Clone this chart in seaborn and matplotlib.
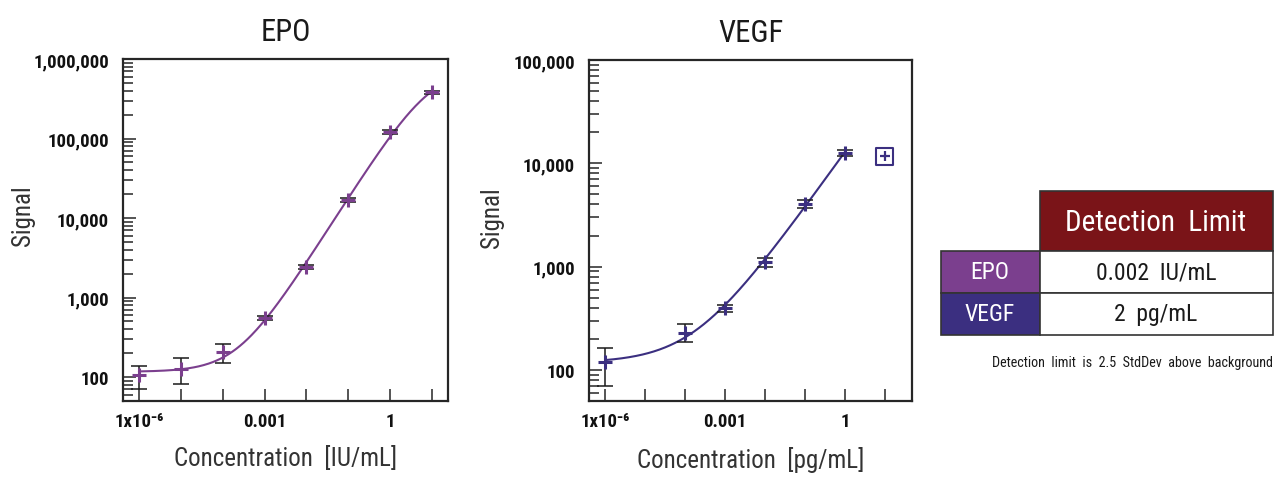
import numpy as np
import pandas as pd
import matplotlib
matplotlib.use("Agg")
import matplotlib.pyplot as plt
import seaborn as sns
from matplotlib import font_manager
from matplotlib.patches import Rectangle
from matplotlib.ticker import LogLocator, NullFormatter, NullLocator

# ---------------- data ----------------
epo_conc = [1e-6, 1e-5, 1e-4, 1e-3, 1e-2, 1e-1, 1, 10]
epo_signal = [105, 126, 205, 546, 2400, 16800, 122000, 381000]
epo_err_low = [71, 82, 150, 515, 2260, 15800, 115000, 362000]
epo_err_high = [136, 174, 257, 580, 2540, 17800, 129000, 400000]

vegf_conc = [1e-6, 1e-4, 1e-3, 1e-2, 1e-1, 1]
vegf_signal = [119, 230, 401, 1110, 4070, 12700]
vegf_err_low = [70, 185, 361, 1000, 3670, 11740]
vegf_err_high = [162, 279, 423, 1206, 4460, 13500]
vegf_excl_conc = [10]
vegf_excl_signal = [11700]

x_tick_values = [1e-6, 1e-5, 1e-4, 1e-3, 1e-2, 1e-1, 1, 10]
x_tick_labels = ["1x10\u207b\u2076", "", "", "0.001", "", "", "1", ""]
epo_y_ticks = [100, 1000, 10000, 100000, 1000000]
epo_y_labels = ["100", "1,000", "10,000", "100,000", "1,000,000"]
vegf_y_ticks = [100, 1000, 10000, 100000]
vegf_y_labels = ["100", "1,000", "10,000", "100,000"]

table_rows = ["EPO", "VEGF"]
table_values = ["0.002  IU/mL", "2  pg/mL"]
table_header = "Detection  Limit"
table_note = "Detection  limit  is  2.5  StdDev  above  background"

EPO_COLOR = "#7B3F8E"
VEGF_COLOR = "#3B2F80"
HEADER_COLOR = "#7A1418"
FRAME = "#262626"

# ---------------- style ----------------
sns.set_theme(style="white")
names = {f.name for f in font_manager.fontManager.ttflist}
narrow = [n for n in ("Liberation Sans Narrow", "DejaVu Sans Condensed", "Roboto Condensed",
                      "Open Sans Condensed", "Noto Sans Condensed") if n in names]
FAM = narrow[:1] + ["DejaVu Sans"]
plt.rcParams["font.family"] = FAM
plt.rcParams["font.stretch"] = "condensed"
plt.rcParams["text.color"] = "#1a1a1a"


def fit4pl(x, y, p0):
    lx = np.log10(np.asarray(x, float))
    ly = np.log10(np.asarray(y, float))

    def model(p, lxx):
        a, d, lc, b = p
        with np.errstate(all="ignore"):
            return np.log10(10 ** d + (10 ** a - 10 ** d) / (1 + 10 ** (b * (lxx - lc))))

    def cost(p):
        r = model(p, lx) - ly
        c = float(r @ r)
        return c if np.isfinite(c) else np.inf

    p = np.array(p0, float)
    lam = 1e-2
    for _ in range(600):
        r = model(p, lx) - ly
        J = np.empty((len(lx), 4))
        for j in range(4):
            dp = np.zeros(4)
            dp[j] = 1e-6
            J[:, j] = (model(p + dp, lx) - model(p - dp, lx)) / 2e-6
        A = J.T @ J
        g = J.T @ r
        try:
            step = np.linalg.solve(A + lam * np.diag(np.diag(A) + 1e-12), -g)
        except np.linalg.LinAlgError:
            lam *= 10
            continue
        pn = p + step
        if cost(pn) < cost(p):
            p = pn
            lam = max(lam * 0.3, 1e-9)
        else:
            lam *= 10
            if lam > 1e12:
                break
    return lambda xx: 10 ** model(p, np.log10(xx))


W, H = 1274, 481
fig = plt.figure(figsize=(W / 100, H / 100), dpi=100)


def px_axes(l, t, r, b):
    return fig.add_axes([l / W, 1 - b / H, (r - l) / W, (b - t) / H])


ax1 = px_axes(123, 60, 448, 402)
ax2 = px_axes(589, 61, 912, 402)

TICK_FS = 13.5


def style_axes(ax, xlim, ylim, yticks, ylabels, title, xlabel, ylab_xy, xlab_y):
    ax.set_xscale("log")
    ax.set_yscale("log")
    ax.set_xlim(*xlim)
    ax.set_ylim(*ylim)
    ax.set_facecolor("white")
    for s in ax.spines.values():
        s.set_visible(True)
        s.set_color(FRAME)
        s.set_linewidth(1.6)
    ax.set_xticks(x_tick_values, x_tick_labels, fontweight="bold", fontsize=TICK_FS, family=FAM)
    ax.xaxis.set_minor_locator(NullLocator())
    ax.set_yticks(yticks, ylabels, fontweight="bold", fontsize=TICK_FS, family=FAM)
    ax.yaxis.set_minor_locator(LogLocator(base=10, subs=np.arange(2, 10)))
    ax.yaxis.set_minor_formatter(NullFormatter())
    ax.tick_params(axis="x", which="major", direction="in", length=9, width=1.1,
                   color=FRAME, pad=8, bottom=True, top=False, labelcolor="#111")
    ax.tick_params(axis="y", which="major", direction="in", length=9.5, width=1.1,
                   color=FRAME, pad=10, left=True, right=False, labelcolor="#111")
    ax.tick_params(axis="y", which="minor", direction="in", length=7, width=1.1,
                   color=FRAME, left=True, right=False)
    ax.set_title(title, fontsize=22, pad=14, color="#1a1a1a", family=FAM)
    ax.set_xlabel(xlabel, fontsize=18, color="#333", family=FAM)
    ax.set_ylabel("Signal", fontsize=18, color="#333", family=FAM)
    ax.xaxis.set_label_coords(0.5, xlab_y)
    ax.yaxis.set_label_coords(*ylab_xy)
    ax.grid(False)


def draw_series(ax, conc, sig, lo, hi, color, fit_p0, curve_max):
    conc = np.asarray(conc, float)
    sig = np.asarray(sig, float)
    f = fit4pl(conc, sig, fit_p0)
    xs = np.logspace(np.log10(conc.min()), np.log10(curve_max), 300)
    curve = pd.DataFrame({"x": xs, "y": f(xs)})
    sns.lineplot(data=curve, x="x", y="y", ax=ax, color=color, lw=1.5, sort=True,
                 estimator=None, zorder=2)
    ax.errorbar(conc, sig, yerr=[sig - np.asarray(lo), np.asarray(hi) - sig], fmt="none",
                ecolor="#1a1a1a", elinewidth=1.1, capsize=5.5, capthick=1.1, zorder=3)
    pts = pd.DataFrame({"x": conc, "y": sig})
    sns.scatterplot(data=pts, x="x", y="y", ax=ax, marker="+", s=95, color=color,
                    linewidth=2.2, zorder=4, legend=False)


draw_series(ax1, epo_conc, epo_signal, epo_err_low, epo_err_high, EPO_COLOR,
            [2.03, 6.0, 0.5, 0.9], max(epo_conc))
draw_series(ax2, vegf_conc, vegf_signal, vegf_err_low, vegf_err_high, VEGF_COLOR,
            [2.05, 4.7, 0.0, 0.8], max(vegf_conc))

# excluded VEGF point (boxed plus)
excl = pd.DataFrame({"x": vegf_excl_conc, "y": vegf_excl_signal})
sns.scatterplot(data=excl, x="x", y="y", ax=ax2, marker="s", s=150, facecolor="none",
                edgecolor=VEGF_COLOR, linewidth=1.5, zorder=4, legend=False)
sns.scatterplot(data=excl, x="x", y="y", ax=ax2, marker="+", s=60, color=VEGF_COLOR,
                linewidth=1.6, zorder=5, legend=False)

style_axes(ax1, (10 ** -6.38, 10 ** 1.38), (50, 1e6), epo_y_ticks, epo_y_labels,
           "EPO", "Concentration  [IU/mL]", (-0.27, 0.545), -0.13)
style_axes(ax2, (10 ** -6.4, 10 ** 1.68), (50, 1e5), vegf_y_ticks, vegf_y_labels,
           "VEGF", "Concentration  [pg/mL]", (-0.262, 0.54), -0.132)
for ax in (ax1, ax2):
    ax.xaxis.label.set_va("top")

# ---------------- detection limit table ----------------
axt = fig.add_axes([0, 0, 1, 1], zorder=-1)
axt.set_xlim(0, W)
axt.set_ylim(H, 0)
axt.axis("off")

ec = "#333333"
axt.add_patch(Rectangle((1040, 192), 233, 60, facecolor=HEADER_COLOR, edgecolor=ec, lw=1.2))
axt.text(1156, 223, table_header, color="white", fontsize=21, ha="center", va="center", family=FAM)
row_colors = [EPO_COLOR, VEGF_COLOR]
for i, (name, val, col) in enumerate(zip(table_rows, table_values, row_colors)):
    top = 252 + i * 42
    axt.add_patch(Rectangle((941, top), 99, 42, facecolor=col, edgecolor=ec, lw=1.2))
    axt.add_patch(Rectangle((1040, top), 233, 42, facecolor="white", edgecolor=ec, lw=1.2))
    axt.text(990, top + 21, name, color="white", fontsize=17, ha="center", va="center", family=FAM)
    axt.text(1156, top + 21, val, color="#1a1a1a", fontsize=17, ha="center", va="center", family=FAM)
axt.text(1273, 363, table_note, color="#1a1a1a", fontsize=10.2, ha="right", va="center", family=FAM)

fig.savefig("out.png", dpi=100, facecolor="white")
